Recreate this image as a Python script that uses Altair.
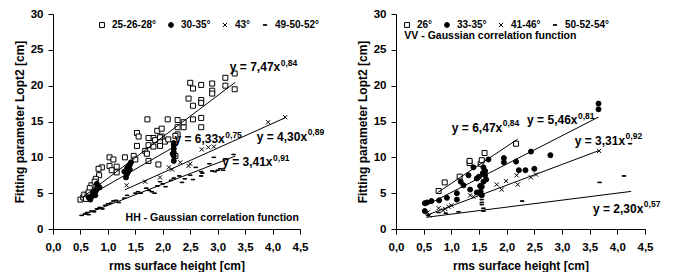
import altair as alt
import pandas as pd

FONT = "Liberation Sans"

# ---------------- HH panel (left) ----------------
hh_names = ["25-26-28°", "30-35°", "43°", "49-50-52°"]

hh_sq_x = [2.50, 2.70, 2.55, 2.90, 2.90, 2.90, 3.14, 3.31, 3.14, 3.31,
           2.47, 2.70, 2.70, 2.55, 1.72, 2.09, 2.27, 2.55, 2.70, 2.27,
           2.38, 2.38, 2.70, 1.90, 1.98, 2.27, 1.53, 1.56, 1.83, 1.98,
           1.74, 1.86, 1.95, 2.04, 2.10, 2.23, 1.53, 1.74, 1.95, 1.83,
           1.68, 1.71, 1.47, 1.50, 1.31, 1.03, 1.10, 1.03, 1.16, 1.07,
           1.16, 0.89, 0.83, 0.84, 0.78, 1.92, 1.74, 2.23, 0.70, 0.76,
           0.67, 0.50, 0.55, 0.57, 0.63, 0.65, 0.60]
hh_sq_y = [20.4, 20.1, 19.6, 20.3, 19.3, 18.9, 21.1, 21.7, 20.0, 19.5,
           18.2, 18.0, 17.6, 17.2, 15.3, 15.3, 15.2, 15.3, 15.5, 14.2,
           14.2, 14.9, 14.2, 13.7, 14.0, 13.2, 13.4, 12.9, 12.7, 12.9,
           12.7, 12.4, 12.8, 12.2, 12.5, 13.0, 11.6, 11.7, 11.6, 11.5,
           10.9, 10.5, 10.2, 9.7, 10.0, 10.0, 9.7, 8.8, 8.7, 8.2,
           7.9, 8.6, 8.4, 7.5, 7.0, 9.0, 9.5, 10.2, 6.1, 6.6,
           5.7, 4.1, 4.4, 4.8, 4.8, 5.1, 4.2]

hh_ci_x = [0.65, 0.68, 0.70, 0.72, 0.73, 0.75, 0.77, 0.78, 0.80, 0.80, 0.82, 0.85,
           1.30, 1.33, 1.35, 1.35, 1.37, 1.38, 1.40, 1.40, 1.42,
           2.18, 2.20, 2.20, 2.20, 2.20, 2.20, 2.20]
hh_ci_y = [4.4, 4.1, 4.5, 4.8, 5.2, 5.0, 4.7, 5.3, 5.6, 6.3, 6.0, 5.8,
           8.0, 7.2, 7.7, 8.5, 8.0, 8.7, 8.3, 9.0, 9.3,
           10.5, 9.5, 10.2, 10.7, 11.2, 11.7, 12.0]

hh_x_x = [1.34, 1.68, 1.95, 2.11, 2.17, 2.32, 2.47, 2.50, 2.71, 2.83, 2.93, 3.92, 4.23]
hh_x_y = [6.1, 6.6, 7.2, 8.6, 8.3, 9.3, 8.8, 9.1, 11.1, 11.4, 11.5, 14.9, 15.6]

hh_da_x = [0.52, 0.58, 0.62, 0.65, 0.70, 0.75, 0.80, 0.85, 0.90, 0.95,
           1.00, 1.05, 1.10, 1.15, 1.20, 1.30, 1.35, 1.50, 1.55, 1.60,
           1.70, 1.75, 1.80, 1.85, 1.90, 1.95, 2.00, 2.05, 2.15, 2.20,
           2.30, 2.35, 2.40, 2.50, 2.55, 2.60, 2.70, 2.70, 2.72, 2.85,
           2.90, 2.93, 2.95, 3.00, 3.05, 3.10, 3.14, 3.29]
hh_da_y = [1.9, 2.1, 2.3, 2.0, 2.5, 2.4, 2.8, 3.0, 2.8, 3.3,
           3.5, 3.6, 3.9, 4.0, 3.7, 4.3, 4.7, 5.0, 5.2, 5.0,
           5.7, 5.4, 5.2, 5.0, 6.0, 6.6, 6.3, 5.9, 6.8, 7.1,
           7.4, 6.5, 7.0, 7.5, 6.9, 8.6, 7.4, 8.0, 7.8, 9.1,
           8.1, 10.0, 8.0, 8.2, 8.4, 8.2, 9.8, 10.4]

# power-law fits y = a * x^b and their x range
hh_fit_a = [7.47, 6.33, 4.30, 3.41]
hh_fit_b = [0.84, 0.75, 0.89, 0.91]
hh_fit_x0 = [0.52, 0.68, 1.31, 0.52]
hh_fit_x1 = [3.32, 2.22, 4.23, 3.32]

hh_eq_main = ["y = 7,47x", "y = 6,33x", "y = 4,30x", "y = 3,41x"]
hh_eq_sup = ["0,84", "0,75", "0,89", "0,91"]
hh_eq_x = [4.14, 3.13, 4.63, 4.00]
hh_eq_y = [22.6, 12.5, 12.9, 9.3]

hh_note = ["HH - Gaussian correlation function"]
hh_note_x = [4.48]
hh_note_y = [1.6]

# ---------------- VV panel (right) ----------------
vv_names = ["26°", "33-35°", "41-46°", "50-52-54°"]

vv_sq_x = [0.77, 0.88, 1.15, 1.33, 1.33, 1.53, 1.55, 1.60, 2.17]
vv_sq_y = [5.3, 6.5, 7.3, 9.2, 9.5, 9.1, 9.6, 10.6, 11.9]

vv_ci_x = [0.52, 0.56, 0.64, 0.52, 0.78, 0.92, 1.10, 1.10, 1.17, 1.22,
           1.31, 1.34, 1.40, 1.46, 1.46, 1.55, 1.53, 1.58, 1.61, 1.58,
           1.67, 1.61, 1.55, 1.95, 1.95, 2.17, 2.22, 2.34, 2.44, 2.50,
           2.79, 3.66, 3.66, 1.50, 1.57, 1.60, 1.52, 1.63]
vv_ci_y = [3.6, 3.7, 3.9, 2.5, 4.0, 4.35, 4.1, 5.0, 6.6, 6.1,
           7.5, 5.5, 8.6, 5.1, 7.05, 5.9, 5.2, 6.6, 7.5, 8.6,
           9.7, 8.1, 4.7, 9.3, 9.9, 9.4, 8.2, 8.2, 10.8, 8.4,
           10.3, 17.5, 16.7, 7.3, 7.8, 8.0, 6.0, 6.9]

vv_x_x = [0.57, 0.77, 0.89, 0.95, 1.00, 1.34, 1.40, 1.52, 1.53, 1.82,
          1.91, 1.99, 2.20, 2.18, 2.44, 2.53, 3.67, 0.60, 0.85]
vv_x_y = [2.3, 2.9, 2.8, 3.1, 3.3, 4.7, 4.5, 5.0, 5.7, 6.2,
          5.5, 6.7, 6.2, 7.5, 7.2, 7.6, 10.9, 1.9, 2.6]

vv_da_x = [0.58, 0.77, 1.13, 1.55, 1.55, 1.58, 1.55, 1.58, 2.28, 3.68, 4.12, 4.23, 1.55, 0.90]
vv_da_y = [1.9, 2.3, 2.4, 3.7, 3.4, 2.5, 4.6, 2.9, 3.9, 6.5, 7.4, 11.9, 4.1, 2.2]

vv_fit_a = [6.47, 5.46, 3.31, 2.30]
vv_fit_b = [0.84, 0.81, 0.92, 0.57]
vv_fit_x0 = [0.75, 0.52, 0.55, 0.55]
vv_fit_x1 = [2.20, 3.66, 3.67, 4.25]

vv_eq_main = ["y = 6,47x", "y = 5,46x", "y = 3,31x", "y = 2,30x"]
vv_eq_sup = ["0,84", "0,81", "0,92", "0,57"]
vv_eq_x = [1.92, 3.28, 4.14, 4.47]
vv_eq_y = [14.1, 15.2, 12.3, 2.8]

vv_note = ["VV - Gaussian correlation function"]
vv_note_x = [0.15]
vv_note_y = [27.0]

# ---------------- helpers ----------------
SHAPES = ["square", "circle",
          "M-0.85,-0.85L0.85,0.85M-0.85,0.85L0.85,-0.85",
          "M-0.75,-0.12L0.75,-0.12L0.75,0.12L-0.75,0.12Z"]
FILLS = ["white", "black", "black", "black"]
STROKES = ["black", "black", "black", "black"]


def points_df(names, series):
    rows = []
    for name, (xs, ys) in zip(names, series):
        for x, y in zip(xs, ys):
            rows.append({"series": name, "x": x, "y": y})
    return pd.DataFrame(rows)


def xenc(field):
    return alt.X(field, type="quantitative",
                 scale=alt.Scale(domain=[0, 4.5], nice=False, zero=False),
                 axis=alt.Axis(title="rms surface height [cm]",
                               values=[0, 0.5, 1, 1.5, 2, 2.5, 3, 3.5, 4, 4.5],
                               labelExpr="replace(format(datum.value, '.1f'), '.', ',')",
                               labelFlush=False, labelOverlap=False,
                               labelFontWeight="bold", titleFontWeight="bold",
                               labelPadding=7, titlePadding=8))


def yenc(field):
    return alt.Y(field, type="quantitative",
                 scale=alt.Scale(domain=[0, 30], nice=False),
                 axis=alt.Axis(title="Fitting parameter Lopt2 [cm]",
                               values=[0, 5, 10, 15, 20, 25, 30], format="d",
                               labelOverlap=False,
                               labelFontWeight="bold", titleFontWeight="bold",
                               labelPadding=5, titlePadding=4))


def panel(names, series, fa, fb, fx0, fx1, em, es, ex, ey,
          note, nx, ny, note_align, width, lead):
    pdf = points_df(names, series)
    lkw = dict(orient="top-left", direction="horizontal", offset=6,
               labelFont=FONT, labelFontWeight="bold", labelFontSize=10,
               symbolStrokeWidth=1, symbolSize=24,
               columnPadding=9, labelOffset=5, padding=0)
    if lead:
        # empty lead-in title, used only to push the entries to the right
        legend = alt.Legend(title=" ", titleOrient="left", titlePadding=lead, **lkw)
    else:
        legend = alt.Legend(title=None, **lkw)
    pts = alt.Chart(pdf).mark_point(filled=True, size=25,
                                     strokeWidth=1, opacity=1).encode(
        x=xenc("x"), y=yenc("y"),
        shape=alt.Shape("series:N", scale=alt.Scale(domain=names, range=SHAPES), legend=legend),
        fill=alt.Fill("series:N", scale=alt.Scale(domain=names, range=FILLS), legend=legend),
        stroke=alt.Stroke("series:N", scale=alt.Scale(domain=names, range=STROKES), legend=legend),
    )
    fdf = pd.DataFrame({"a": fa, "b": fb, "x0": fx0, "x1": fx1})
    fits = alt.Chart(fdf).transform_calculate(
        y0="datum.a * pow(datum.x0, datum.b)",
        y1="datum.a * pow(datum.x1, datum.b)",
    ).mark_rule(color="black", strokeWidth=1).encode(
        x=xenc("x0"), x2="x1:Q", y=yenc("y0"), y2="y1:Q")
    edf = pd.DataFrame({"m": em, "s": es, "x": ex, "y": ey})
    eq_main = alt.Chart(edf).mark_text(
        align="right", baseline="middle", font=FONT, fontWeight="bold",
        fontSize=12, color="black").encode(x=xenc("x"), y=yenc("y"), text="m:N")
    eq_sup = alt.Chart(edf).mark_text(
        align="left", baseline="middle", font=FONT, fontWeight="bold",
        fontSize=8.5, dx=0.5, dy=-4.5, color="black").encode(
        x=xenc("x"), y=yenc("y"), text="s:N")
    ndf = pd.DataFrame({"t": note, "x": nx, "y": ny})
    note_t = alt.Chart(ndf).mark_text(
        align=note_align, baseline="middle", font=FONT, fontWeight="bold",
        fontSize=10.5, color="black").encode(x=xenc("x"), y=yenc("y"), text="t:N")
    return alt.layer(pts, fits, eq_main, eq_sup, note_t).properties(
        width=width, height=215)


left = panel(hh_names,
             [(hh_sq_x, hh_sq_y), (hh_ci_x, hh_ci_y), (hh_x_x, hh_x_y), (hh_da_x, hh_da_y)],
             hh_fit_a, hh_fit_b, hh_fit_x0, hh_fit_x1,
             hh_eq_main, hh_eq_sup, hh_eq_x, hh_eq_y,
             hh_note, hh_note_x, hh_note_y, "right", 247, 38)

right = panel(vv_names,
              [(vv_sq_x, vv_sq_y), (vv_ci_x, vv_ci_y), (vv_x_x, vv_x_y), (vv_da_x, vv_da_y)],
              vv_fit_a, vv_fit_b, vv_fit_x0, vv_fit_x1,
              vv_eq_main, vv_eq_sup, vv_eq_x, vv_eq_y,
              vv_note, vv_note_x, vv_note_y, "left", 249, 0)

chart = alt.hconcat(left, right, spacing=96, bounds="flush").resolve_scale(
    x="independent", y="independent", shape="independent", fill="independent",
    stroke="independent"
).resolve_legend(shape="independent", fill="independent", stroke="independent").properties(
    padding={"left": 5, "top": 0, "right": 5, "bottom": 0}
).configure_view(stroke=None).configure_axis(
    grid=False, domainColor="black", tickColor="black", tickSize=5,
    labelFont=FONT, labelFontWeight="bold", labelFontSize=11.5, labelColor="black",
    titleFont=FONT, titleFontWeight="bold", titleFontSize=12, titleColor="black",
).configure_legend(
    labelFont=FONT, labelFontWeight="bold", labelFontSize=10, labelColor="black",
    titleFont=FONT, titleFontSize=10,
    symbolStrokeWidth=1, symbolSize=24,
    columnPadding=9, labelOffset=5, padding=0,
)

chart.save("out.html", embed_options={"renderer": "svg", "actions": False})
